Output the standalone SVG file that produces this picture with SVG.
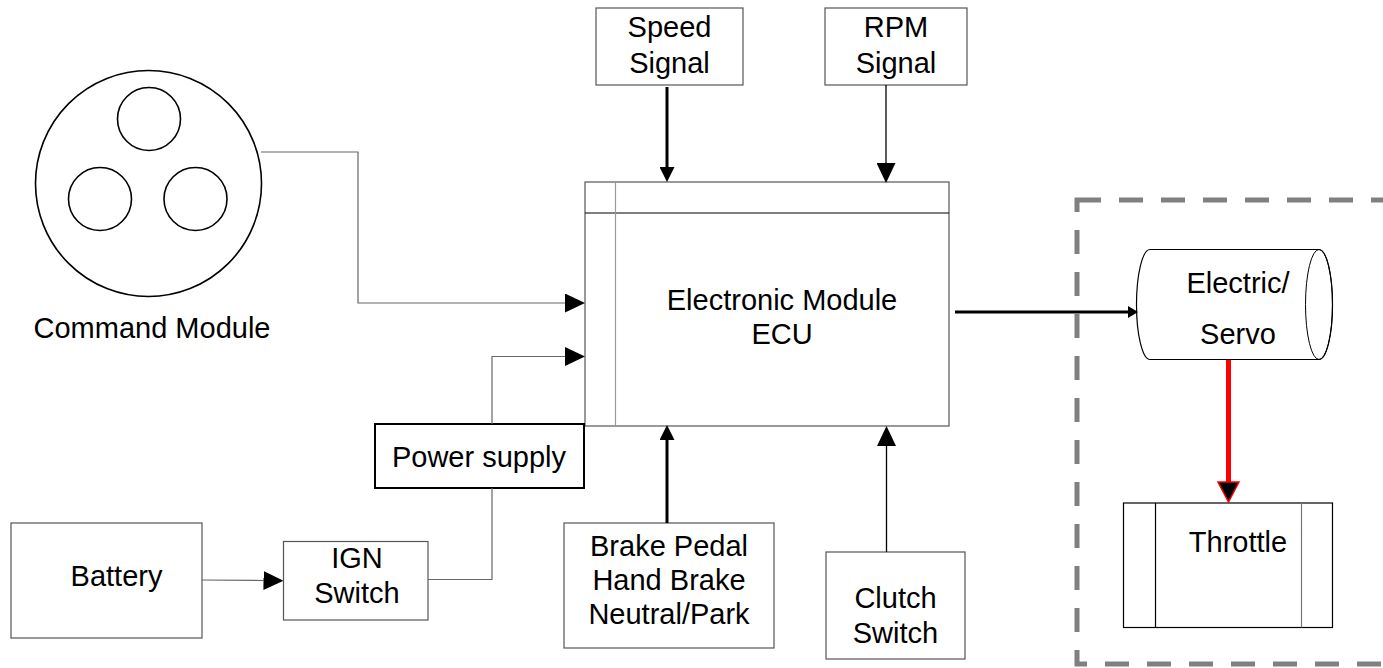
<svg xmlns="http://www.w3.org/2000/svg" width="1383" height="668" viewBox="0 0 1383 668">
<style>
  .lbl { font-family: "Liberation Sans", Arial, sans-serif; font-size: 29px; fill: #000; text-anchor: middle; }
  .box { fill: #fff; stroke: #555; stroke-width: 1.2; }
  .circ { fill: none; stroke: #000; stroke-width: 1.6; }
  .thin { fill: none; stroke: #666; stroke-width: 1.2; }
  .thinb { fill: none; stroke: #000; stroke-width: 1.3; }
  .thick { fill: none; stroke: #000; stroke-width: 3; }
</style>
<defs>
  <marker id="ah" viewBox="0 0 20 19" refX="0" refY="9.5" markerWidth="20" markerHeight="19" markerUnits="userSpaceOnUse" orient="auto">
    <path d="M0,0 L20,9.5 L0,19 Z" fill="#000"/>
  </marker>
  <marker id="ahs" viewBox="0 0 15 15" refX="0" refY="7.5" markerWidth="15" markerHeight="15" markerUnits="userSpaceOnUse" orient="auto">
    <path d="M0,0 L15,7.5 L0,15 Z" fill="#000"/>
  </marker>
  <marker id="aht" viewBox="0 0 10 12" refX="0" refY="6" markerWidth="10" markerHeight="12" markerUnits="userSpaceOnUse" orient="auto">
    <path d="M0,0 L10,6 L0,12 Z" fill="#000"/>
  </marker>
  <marker id="ahr" viewBox="-1 -1 22 23" refX="0" refY="10.5" markerWidth="22" markerHeight="23" markerUnits="userSpaceOnUse" orient="auto">
    <path d="M0,0 L20,10.5 L0,21 Z" fill="#000" stroke="#f00" stroke-width="1.5"/>
  </marker>
</defs>
<rect width="1383" height="668" fill="#fff"/>

<g id="actuator-zone">
  <rect x="1077" y="200" width="340" height="464" fill="none" stroke="#808080" stroke-width="5" stroke-dasharray="24 18"/>
</g>

<g id="command-module">
  <circle class="circ" cx="148.5" cy="183.5" r="113"/>
  <circle class="circ" cx="149" cy="119" r="31.5"/>
  <circle class="circ" cx="100" cy="199" r="31.5"/>
  <circle class="circ" cx="195.5" cy="199" r="31.5"/>
  <text class="lbl" x="152" y="338">Command Module</text>
</g>

<g id="speed-signal">
  <rect class="box" x="596" y="8" width="147" height="77"/>
  <text class="lbl" x="669.5" y="37">Speed</text>
  <text class="lbl" x="669.5" y="73">Signal</text>
</g>

<g id="rpm-signal">
  <rect class="box" x="825" y="8" width="142" height="77"/>
  <text class="lbl" x="896" y="37">RPM</text>
  <text class="lbl" x="896" y="73">Signal</text>
</g>

<g id="ecu">
  <rect x="585" y="182" width="364" height="244" fill="#fff" stroke="#555" stroke-width="1.2"/>
  <line x1="585" y1="213" x2="949" y2="213" stroke="#000" stroke-width="1.2"/>
  <line x1="615.5" y1="182" x2="615.5" y2="426" stroke="#999" stroke-width="1.2"/>
  <text class="lbl" x="782" y="310">Electronic Module</text>
  <text class="lbl" x="782" y="344">ECU</text>
</g>

<g id="power-supply">
  <rect x="375" y="424" width="209" height="64" fill="#fff" stroke="#000" stroke-width="2"/>
  <text class="lbl" x="479" y="467">Power supply</text>
</g>

<g id="battery">
  <rect class="box" x="11" y="523" width="191" height="115"/>
  <text class="lbl" x="116.5" y="586">Battery</text>
</g>

<g id="ign-switch">
  <rect class="box" x="283.5" y="541.5" width="144.5" height="78.5"/>
  <text class="lbl" x="357" y="568">IGN</text>
  <text class="lbl" x="357" y="603">Switch</text>
</g>

<g id="brake">
  <rect class="box" x="564" y="523" width="210" height="125"/>
  <text class="lbl" x="669" y="556">Brake Pedal</text>
  <text class="lbl" x="669" y="590">Hand Brake</text>
  <text class="lbl" x="669" y="624">Neutral/Park</text>
</g>

<g id="clutch-switch">
  <rect class="box" x="826" y="552" width="139" height="107"/>
  <text class="lbl" x="895.5" y="608">Clutch</text>
  <text class="lbl" x="895.5" y="643">Switch</text>
</g>

<g id="electric-servo">
  <path d="M1150,249.5 L1319,249.5 A13.5,55 0 0 1 1319,359.5 L1150,359.5 A13.5,55 0 0 1 1150,249.5 Z" fill="#fff" stroke="#000" stroke-width="1.2"/>
  <ellipse cx="1319" cy="304.5" rx="13.5" ry="55" fill="none" stroke="#000" stroke-width="1"/>
  <text class="lbl" x="1238" y="293">Electric/</text>
  <text class="lbl" x="1238" y="344">Servo</text>
</g>

<g id="throttle">
  <rect x="1123.5" y="503" width="209" height="124.5" fill="#fff" stroke="#000" stroke-width="1.2"/>
  <line x1="1155.5" y1="503" x2="1155.5" y2="627.5" stroke="#000" stroke-width="1.2"/>
  <line x1="1301.5" y1="503" x2="1301.5" y2="627.5" stroke="#777" stroke-width="1.2"/>
  <text class="lbl" x="1238" y="552">Throttle</text>
</g>

<g id="connectors">
  <polyline class="thin" points="261,152 358,152 358,303 565,303" marker-end="url(#ah)"/>
  <polyline class="thin" points="492,424 492,356.5 565,356.5" marker-end="url(#ah)"/>
  <polyline class="thin" points="428,579.5 492,579.5 492,488"/>
  <line class="thin" x1="202" y1="580" x2="263.5" y2="580.5" marker-end="url(#ah)"/>
  <line class="thick" x1="667" y1="87" x2="667" y2="167" marker-end="url(#ahs)"/>
  <line class="thinb" x1="886" y1="85" x2="886" y2="163" marker-end="url(#ah)"/>
  <line class="thick" x1="667" y1="523" x2="667" y2="440" marker-end="url(#ahs)"/>
  <line class="thinb" x1="886.5" y1="552" x2="886.5" y2="446" marker-end="url(#ah)"/>
  <line class="thick" x1="955" y1="312" x2="1128" y2="312" marker-end="url(#aht)"/>
  <line x1="1228.5" y1="360" x2="1228.5" y2="482" stroke="#f00" stroke-width="5" marker-end="url(#ahr)"/>
</g>
</svg>
